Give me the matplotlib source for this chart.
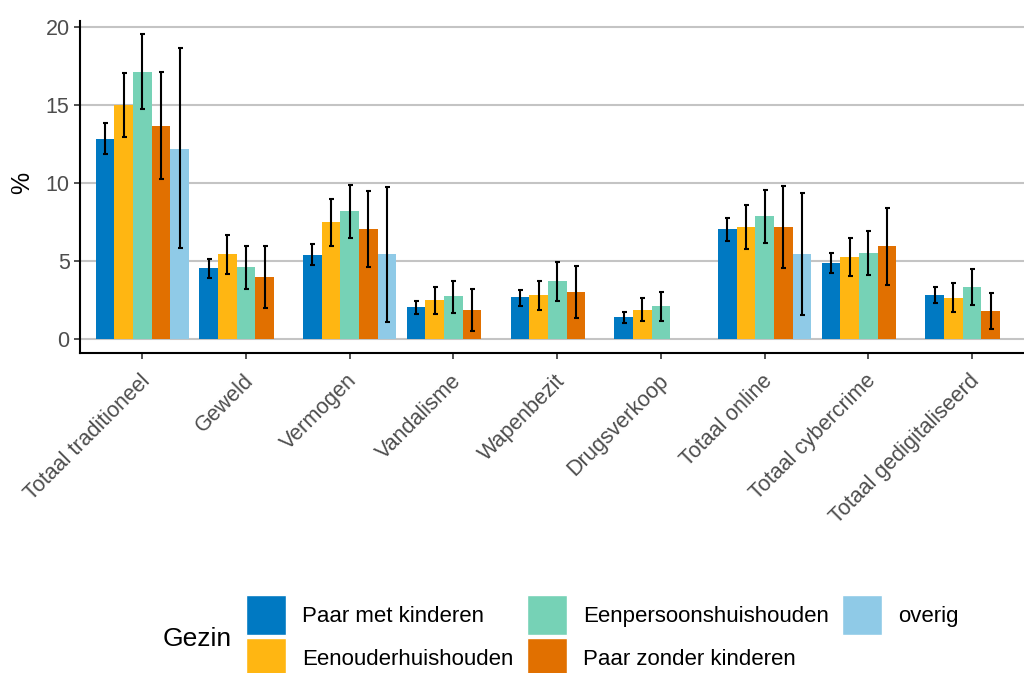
import matplotlib
matplotlib.use('Agg')
import matplotlib.pyplot as plt
import matplotlib.transforms as mtransforms
import numpy as np
from matplotlib.patches import Patch

plt.rcParams['font.family'] = ['Liberation Sans', 'DejaVu Sans']

categories = ['Totaal traditioneel', 'Geweld', 'Vermogen', 'Vandalisme', 'Wapenbezit',
              'Drugsverkoop', 'Totaal online', 'Totaal cybercrime', 'Totaal gedigitaliseerd']
groups = ['Paar met kinderen', 'Eenouderhuishouden', 'Eenpersoonshuishouden',
          'Paar zonder kinderen', 'overig']
colors = ['#0079C2', '#FFB612', '#76D2B6', '#E17000', '#8FCAE7']

nan = np.nan
paar_met = [12.8, 4.55, 5.37, 2.03, 2.67, 1.41, 7.04, 4.86, 2.81]
paar_met_lo = [11.84, 3.88, 4.71, 1.6, 2.12, 1.02, 6.25, 4.24, 2.32]
paar_met_hi = [13.83, 5.15, 6.06, 2.44, 3.12, 1.73, 7.78, 5.52, 3.35]

eenouder = [14.97, 5.45, 7.48, 2.48, 2.8, 1.85, 7.16, 5.25, 2.62]
eenouder_lo = [12.95, 4.18, 5.93, 1.58, 1.88, 1.13, 5.76, 4.01, 1.71]
eenouder_hi = [17.02, 6.68, 9.0, 3.33, 3.7, 2.62, 8.61, 6.46, 3.56]

eenpersoons = [17.1, 4.61, 8.19, 2.74, 3.7, 2.11, 7.87, 5.5, 3.33]
eenpersoons_lo = [14.71, 3.21, 6.44, 1.67, 2.46, 1.17, 6.18, 4.09, 2.17]
eenpersoons_hi = [19.55, 5.97, 9.87, 3.74, 4.96, 3.01, 9.57, 6.95, 4.5]

paar_zonder = [13.68, 3.97, 7.04, 1.84, 2.99, nan, 7.16, 5.95, 1.79]
paar_zonder_lo = [10.26, 1.98, 4.6, 0.49, 1.37, nan, 4.58, 3.48, 0.62]
paar_zonder_hi = [17.09, 5.95, 9.49, 3.18, 4.66, nan, 9.79, 8.42, 2.96]

overig = [12.2, nan, 5.44, nan, nan, nan, 5.44, nan, nan]
overig_lo = [5.82, nan, 1.11, nan, nan, nan, 1.54, nan, nan]
overig_hi = [18.63, nan, 9.77, nan, nan, nan, 9.36, nan, nan]

series = [(paar_met, paar_met_lo, paar_met_hi),
          (eenouder, eenouder_lo, eenouder_hi),
          (eenpersoons, eenpersoons_lo, eenpersoons_hi),
          (paar_zonder, paar_zonder_lo, paar_zonder_hi),
          (overig, overig_lo, overig_hi)]

fig = plt.figure(figsize=(10.24, 6.73), dpi=100)
ax = fig.add_axes([80/1024, 1-353/673, 1-80/1024, (353-21)/673])

x = np.arange(len(categories))
w = 0.18
for k, (vals, lo, hi) in enumerate(series):
    vals = np.array(vals); lo = np.array(lo); hi = np.array(hi)
    m = ~np.isnan(vals)
    xs = x[m] + (k-2)*w
    ax.bar(xs, vals[m], width=w, color=colors[k], zorder=2)
    ax.errorbar(xs, vals[m], yerr=[vals[m]-lo[m], hi[m]-vals[m]], fmt='none',
                ecolor='black', elinewidth=1.5, capsize=1.8, capthick=1.5, zorder=3)

ax.set_xlim(-0.6, 8.5)
ax.set_ylim(-0.9, 20.38)
ax.set_yticks([0, 5, 10, 15, 20])
ax.set_xticks(x)
ax.set_xticklabels(categories, rotation=45, ha='right', va='top', rotation_mode='anchor')
ax.yaxis.grid(True, color='#C4C4C4', linewidth=1.5, zorder=0)
ax.set_axisbelow(True)
for s in ['top', 'right']:
    ax.spines[s].set_visible(False)
for s in ['left', 'bottom']:
    ax.spines[s].set_linewidth(1.5)
    ax.spines[s].set_color('black')
ax.tick_params(axis='both', length=4.5, width=1.2, color='#333333', labelcolor='#4D4D4D',
               labelsize=15.5)
ax.tick_params(axis='y', pad=3)
ax.tick_params(axis='x', pad=8)
# nudge the rotated labels a little to the left
shift = mtransforms.ScaledTranslation(-3/100, 0, fig.dpi_scale_trans)
for lab in ax.get_xticklabels():
    lab.set_transform(lab.get_transform() + shift)

fig.text(22/1024, 1-183/673, '%', rotation=90, ha='center', va='center', fontsize=18)

handles = [Patch(facecolor=c, edgecolor='white', linewidth=1.0) for c in colors]
fig.legend(handles, groups, loc='upper left', bbox_to_anchor=(246/1024, 1-595/673),
           ncol=3, frameon=False, fontsize=16, handlelength=1.8, handleheight=2.39,
           labelspacing=0.135, handletextpad=0.72, columnspacing=0.6,
           borderpad=0, borderaxespad=0)
fig.text(163/1024, 1-639/673, 'Gezin', ha='left', va='center', fontsize=19)

fig.savefig('out.png', dpi=100)
